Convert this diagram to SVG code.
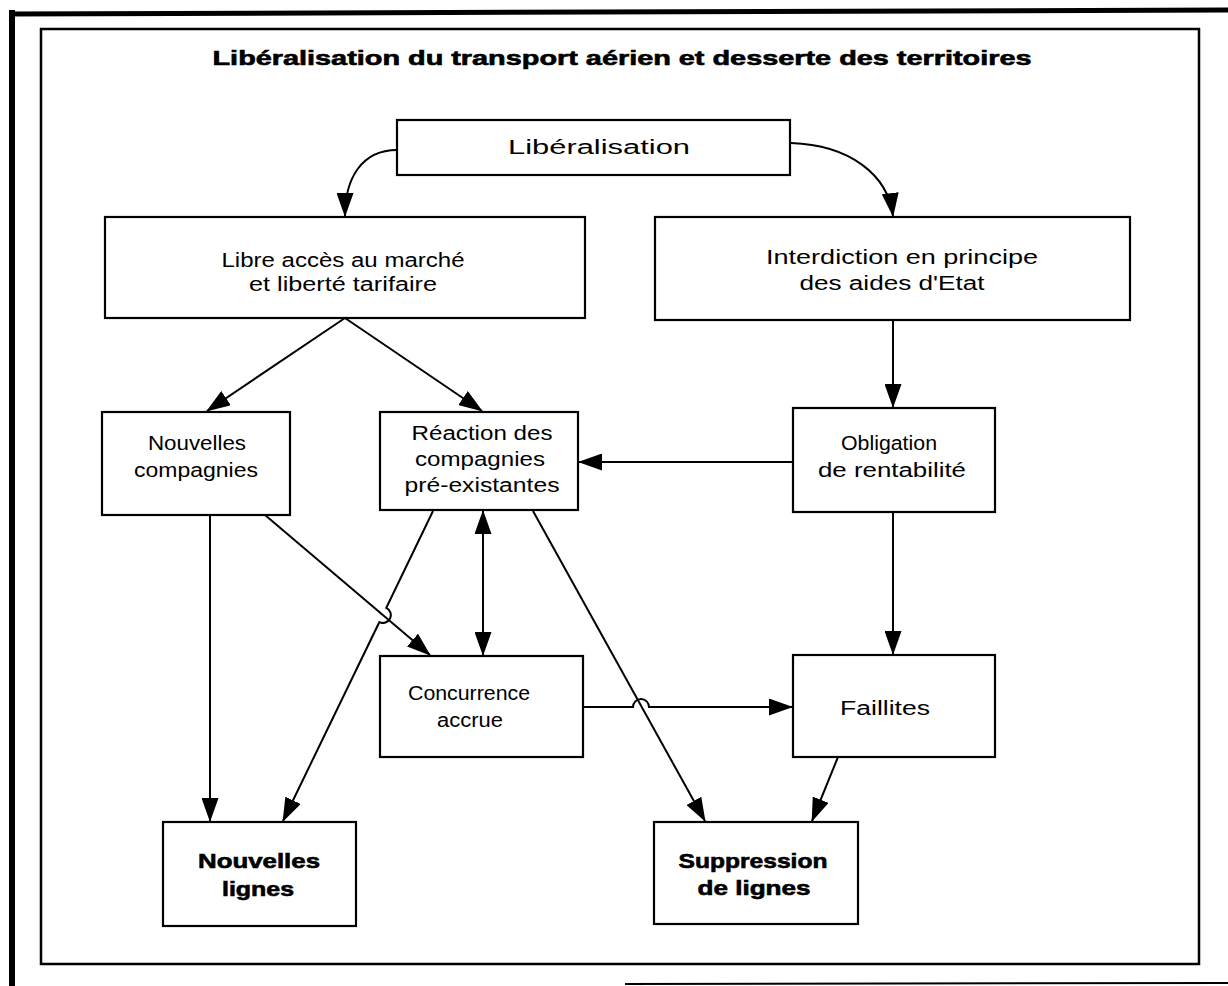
<svg xmlns="http://www.w3.org/2000/svg" width="1228" height="986" viewBox="0 0 1228 986">
<defs>
<marker id="ah" markerUnits="userSpaceOnUse" markerWidth="24" markerHeight="17" viewBox="0 0 24 17" refX="23" refY="8.5" orient="auto-start-reverse">
<path d="M0,0 L24,8.5 L0,17 z" fill="#000"/>
</marker>
<style>
.box{fill:#fff;stroke:#000;stroke-width:2.2}
.t{font-family:"Liberation Sans",Arial,sans-serif;font-size:20px;fill:#000;text-anchor:middle}
.b{font-weight:bold;stroke:#000;stroke-width:0.6}
.c{fill:none;stroke:#000;stroke-width:2;marker-end:url(#ah)}
.frame{fill:none;stroke:#000}
</style>
</defs>
<rect width="1228" height="986" fill="#fff"/>
<g id="frame">
<line class="frame" x1="9" y1="14" x2="1228" y2="10" stroke-width="5"/>
<line class="frame" x1="12" y1="10" x2="12" y2="986" stroke-width="6"/>
<line class="frame" x1="625" y1="984" x2="1228" y2="983" stroke-width="2"/>
<rect class="frame" x="41" y="29" width="1158" height="935" stroke-width="2.5"/>
</g>
<text id="title" class="t b" x="622" y="65" font-size="23" textLength="819" lengthAdjust="spacingAndGlyphs">Libéralisation du transport aérien et desserte des territoires</text>
<g id="connectors">
<path class="c" d="M397,150 C362,150 345,178 345,216"/>
<path class="c" d="M791,143 C850,145 888,175 893,216"/>
<path class="c" d="M345,318 L207,411"/>
<path class="c" d="M345,318 L482,411"/>
<path class="c" d="M893,320 L893,407"/>
<path class="c" d="M793,462 L579,462"/>
<path class="c" d="M893,512 L893,654"/>
<path class="c" d="M210,515 L210,821"/>
<path class="c" d="M265,515 L430,655"/>
<path class="c" d="M433,511 L386.3,607.8 A8,8 0 0 1 379.3,622.2 L283,821"/>
<path class="c" style="marker-start:url(#ah)" d="M483,511 L483,655"/>
<path class="c" d="M533,511 L705,821"/>
<path class="c" d="M584,707 L633,707 A8,8 0 0 1 649,707 L792,707"/>
<path class="c" d="M838,757 L812,821"/>
</g>
<g id="n-liberalisation">
<rect class="box" x="397" y="120" width="393" height="55"/>
<text class="t" x="599" y="154" textLength="182" lengthAdjust="spacingAndGlyphs">Libéralisation</text>
</g>
<g id="n-libre-acces">
<rect class="box" x="105" y="217" width="480" height="101"/>
<text class="t" x="343" y="267" textLength="243" lengthAdjust="spacingAndGlyphs">Libre accès au marché</text>
<text class="t" x="343" y="291" textLength="188" lengthAdjust="spacingAndGlyphs">et liberté tarifaire</text>
</g>
<g id="n-interdiction">
<rect class="box" x="655" y="217" width="475" height="103"/>
<text class="t" x="902" y="264" textLength="272" lengthAdjust="spacingAndGlyphs">Interdiction en principe</text>
<text class="t" x="892" y="290" textLength="185" lengthAdjust="spacingAndGlyphs">des aides d'Etat</text>
</g>
<g id="n-nouvelles-compagnies">
<rect class="box" x="102" y="412" width="188" height="103"/>
<text class="t" x="197" y="450" textLength="98" lengthAdjust="spacingAndGlyphs">Nouvelles</text>
<text class="t" x="196" y="477" textLength="124" lengthAdjust="spacingAndGlyphs">compagnies</text>
</g>
<g id="n-reaction">
<rect class="box" x="380" y="412" width="198" height="98"/>
<text class="t" x="482" y="440" textLength="141" lengthAdjust="spacingAndGlyphs">Réaction des</text>
<text class="t" x="480" y="466" textLength="130" lengthAdjust="spacingAndGlyphs">compagnies</text>
<text class="t" x="482" y="492" textLength="155" lengthAdjust="spacingAndGlyphs">pré-existantes</text>
</g>
<g id="n-obligation">
<rect class="box" x="793" y="408" width="202" height="104"/>
<text class="t" x="889" y="450" textLength="96" lengthAdjust="spacingAndGlyphs">Obligation</text>
<text class="t" x="892" y="477" textLength="148" lengthAdjust="spacingAndGlyphs">de rentabilité</text>
</g>
<g id="n-concurrence">
<rect class="box" x="380" y="656" width="203" height="101"/>
<text class="t" x="469" y="700" textLength="122" lengthAdjust="spacingAndGlyphs">Concurrence</text>
<text class="t" x="470" y="727" textLength="66" lengthAdjust="spacingAndGlyphs">accrue</text>
</g>
<g id="n-faillites">
<rect class="box" x="793" y="655" width="202" height="102"/>
<text class="t" x="885" y="715" textLength="90" lengthAdjust="spacingAndGlyphs">Faillites</text>
</g>
<g id="n-nouvelles-lignes">
<rect class="box" x="163" y="822" width="193" height="104"/>
<text class="t b" x="259" y="868" textLength="122" lengthAdjust="spacingAndGlyphs">Nouvelles</text>
<text class="t b" x="258" y="896" textLength="72" lengthAdjust="spacingAndGlyphs">lignes</text>
</g>
<g id="n-suppression">
<rect class="box" x="654" y="822" width="204" height="102"/>
<text class="t b" x="753" y="868" textLength="149" lengthAdjust="spacingAndGlyphs">Suppression</text>
<text class="t b" x="754" y="895" textLength="113" lengthAdjust="spacingAndGlyphs">de lignes</text>
</g>
</svg>
